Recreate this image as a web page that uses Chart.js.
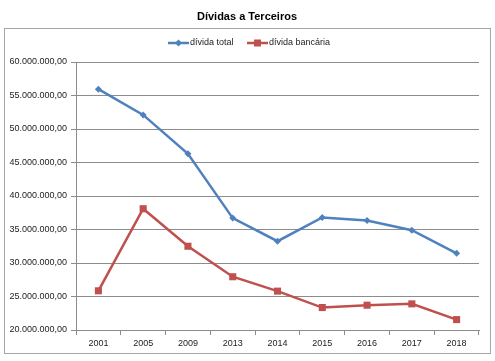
<!DOCTYPE html>
<html>
<head>
<meta charset="utf-8">
<script src="https://cdn.jsdelivr.net/npm/chart.js@4.4.0/dist/chart.umd.min.js"></script>
<style>
  html, body { margin: 0; padding: 0; background: #fff; }
  #wrap { width: 495px; height: 361px; }
</style>
</head>
<body>
<div id="wrap"><canvas id="grafico" width="495" height="361"></canvas></div>
<script>
// dados
var anos = ["2001", "2005", "2009", "2013", "2014", "2015", "2016", "2017", "2018"];
var dividaTotal = [55950000, 52100000, 46300000, 36700000, 33250000, 36800000, 36350000, 34900000, 31450000];
var dividaBancaria = [25850000, 38100000, 32500000, 27950000, 25800000, 23350000, 23700000, 23900000, 21550000];
var nomes = ["dívida total", "dívida bancária"];
var cores = ["#4F81BD", "#C0504D"];

function formataNumero(v) {
    var s = Math.round(v).toString();
    var out = "";
    while (s.length > 3) {
        out = "." + s.slice(-3) + out;
        s = s.slice(0, -3);
    }
    return s + out + ",00";
}

// moldura, título e legenda desenhados à mão
var extras = {
    id: "extras",
    beforeDraw: function(chart) {
        var ctx = chart.ctx;
        ctx.save();
        ctx.fillStyle = "#fff";
        ctx.fillRect(0, 0, chart.width, chart.height);
        ctx.strokeStyle = "#a6a6a6";
        ctx.lineWidth = 1;
        ctx.strokeRect(4.5, 28.5, 486, 325);
        ctx.restore();
    },
    afterDraw: function(chart) {
        var ctx = chart.ctx;
        ctx.save();
        ctx.fillStyle = "#000";
        ctx.font = "bold 11px 'Liberation Sans', Arial, sans-serif";
        ctx.textAlign = "center";
        ctx.textBaseline = "middle";
        ctx.fillText("Dívidas a Terceiros", 247, 17);

        ctx.font = "9px 'Liberation Sans', Arial, sans-serif";
        ctx.textAlign = "left";
        var xs = [168, 247];
        var y = 43;
        for (var i = 0; i < 2; i++) {
            ctx.strokeStyle = cores[i];
            ctx.lineWidth = 2.5;
            ctx.beginPath();
            ctx.moveTo(xs[i], y);
            ctx.lineTo(xs[i] + 21, y);
            ctx.stroke();
            ctx.fillStyle = cores[i];
            if (i == 0) {
                ctx.beginPath();
                ctx.moveTo(xs[i] + 10.5, y - 3.5);
                ctx.lineTo(xs[i] + 14, y);
                ctx.lineTo(xs[i] + 10.5, y + 3.5);
                ctx.lineTo(xs[i] + 7, y);
                ctx.closePath();
                ctx.fill();
            } else {
                ctx.fillRect(xs[i] + 7, y - 3.5, 7, 7);
            }
            ctx.fillStyle = "#222";
            ctx.fillText(nomes[i], xs[i] + 22, y);
        }
        ctx.restore();
    }
};

var datos = {
    labels: anos,
    datasets: [{
            label: nomes[0],
            data: dividaTotal,
            borderColor: cores[0],
            backgroundColor: cores[0],
            borderWidth: 2.5,
            pointStyle: "rectRot",
            pointRadius: 3.5,
            pointBorderWidth: 0,
            tension: 0
        },
        {
            label: nomes[1],
            data: dividaBancaria,
            borderColor: cores[1],
            backgroundColor: cores[1],
            borderWidth: 2.5,
            pointStyle: "rect",
            pointRadius: 5,
            pointBorderWidth: 0,
            tension: 0
        }
    ]
};

var canvas = document.getElementById("grafico").getContext("2d");
window.linha = new Chart(canvas, {
    type: "line",
    data: datos,
    plugins: [extras],
    options: {
        responsive: false,
        animation: false,
        layout: {
            padding: { top: 62, right: 16, bottom: 0, left: 0 }
        },
        plugins: {
            legend: { display: false },
            title: { display: false },
            tooltip: { enabled: false }
        },
        scales: {
            x: {
                offset: true,
                afterFit: function(scale) { scale.height = 31; },
                grid: {
                    offset: true,
                    drawOnChartArea: false,
                    drawTicks: true,
                    tickLength: 5,
                    color: "#8c8c8c"
                },
                border: { display: true, color: "#8c8c8c" },
                ticks: {
                    color: "#222",
                    padding: 3,
                    font: { family: "'Liberation Sans', Arial, sans-serif", size: 9 }
                }
            },
            y: {
                min: 20000000,
                max: 60000000,
                afterFit: function(scale) { scale.width = 76; },
                grid: {
                    color: "#8c8c8c",
                    drawTicks: true,
                    tickLength: 5
                },
                border: { display: true, color: "#8c8c8c" },
                ticks: {
                    stepSize: 5000000,
                    color: "#222",
                    padding: 4,
                    font: { family: "'Liberation Sans', Arial, sans-serif", size: 9 },
                    callback: function(v) { return formataNumero(v); }
                }
            }
        }
    }
});
</script>
</body>
</html>
